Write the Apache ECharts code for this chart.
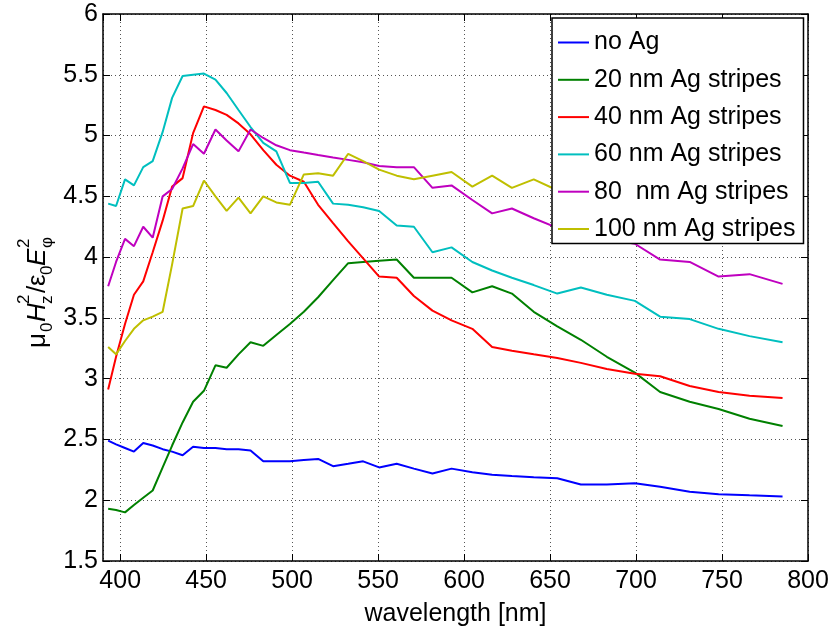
<!DOCTYPE html>
<html>
<head>
<meta charset="utf-8">
<script src="https://cdn.jsdelivr.net/npm/echarts@6/dist/echarts.min.js"></script>
<style>
  html, body { margin: 0; padding: 0; background: #fff; }
  #chart { width: 832px; height: 632px; }
</style>
</head>
<body>
<div id="chart"></div>
<script>
// wavelength samples [nm]
var wavelength = [393, 397.6, 402.8, 408, 413.4, 418.9, 424.7, 430.2, 436.3, 442.4,
  448.7, 455.4, 461.9, 468.8, 475.8, 483.2, 490.8, 498.7, 506.8, 515.1,
  523.8, 532.6, 541.3, 550.6, 560.8, 570.8, 581.6, 592.7, 604.8, 616.3,
  627.8, 640.5, 654.2, 667.9, 683, 699.3, 714, 731.2, 748, 766, 785.2];

var noAg = [2.49, 2.46, 2.43, 2.40, 2.47, 2.45, 2.42, 2.40, 2.37, 2.44,
  2.43, 2.43, 2.42, 2.42, 2.41, 2.32, 2.32, 2.32, 2.33, 2.34,
  2.28, 2.30, 2.32, 2.27, 2.30, 2.26, 2.22, 2.26, 2.23, 2.21,
  2.20, 2.19, 2.18, 2.13, 2.13, 2.14, 2.11, 2.07, 2.05, 2.04, 2.03];
var ag20 = [1.93, 1.92, 1.90, 1.96, 2.02, 2.08, 2.27, 2.45, 2.64, 2.81,
  2.90, 3.11, 3.09, 3.20, 3.30, 3.27, 3.36, 3.45, 3.55, 3.67,
  3.81, 3.95, 3.96, 3.97, 3.98, 3.83, 3.83, 3.83, 3.71, 3.76,
  3.70, 3.55, 3.43, 3.32, 3.18, 3.05, 2.89, 2.81, 2.75, 2.67, 2.61];
var ag40 = [2.91, 3.18, 3.45, 3.69, 3.80, 4.04, 4.30, 4.58, 4.65, 5.02,
  5.24, 5.21, 5.17, 5.10, 5.01, 4.88, 4.76, 4.67, 4.62, 4.43,
  4.28, 4.13, 3.99, 3.84, 3.83, 3.68, 3.56, 3.48, 3.41, 3.26,
  3.23, 3.20, 3.17, 3.13, 3.08, 3.04, 3.02, 2.94, 2.89, 2.86, 2.84];
var ag60 = [4.44, 4.42, 4.64, 4.59, 4.74, 4.79, 5.03, 5.31, 5.49, 5.50,
  5.51, 5.46, 5.35, 5.21, 5.07, 4.94, 4.87, 4.61, 4.61, 4.62,
  4.44, 4.43, 4.41, 4.38, 4.26, 4.25, 4.04, 4.08, 3.96, 3.89,
  3.83, 3.77, 3.70, 3.75, 3.69, 3.64, 3.51, 3.49, 3.41, 3.35, 3.30];
var ag80 = [3.76, 3.96, 4.15, 4.09, 4.25, 4.16, 4.50, 4.56, 4.73, 4.93,
  4.85, 5.05, 4.96, 4.87, 5.05, 4.98, 4.92, 4.88, 4.86, 4.84,
  4.82, 4.80, 4.78, 4.75, 4.74, 4.74, 4.57, 4.59, 4.47, 4.36,
  4.40, 4.32, 4.24, 4.19, 4.15, 4.11, 3.98, 3.96, 3.84, 3.86, 3.78];
var ag100 = [3.26, 3.20, 3.31, 3.41, 3.48, 3.51, 3.55, 3.94, 4.40, 4.42,
  4.63, 4.50, 4.38, 4.49, 4.36, 4.50, 4.45, 4.43, 4.68, 4.69,
  4.67, 4.85, 4.79, 4.72, 4.67, 4.64, 4.67, 4.70, 4.58, 4.67,
  4.57, 4.64, 4.55, 4.52, 4.50, 4.48, 4.45, 4.43, 4.40, 4.38, 4.35];

var seriesNames = ['no Ag', '20 nm Ag stripes', '40 nm Ag stripes', '60 nm Ag stripes', '80  nm Ag stripes', '100 nm Ag stripes'];
var seriesValues = [noAg, ag20, ag40, ag60, ag80, ag100];
var seriesColors = ['#0000ff', '#008000', '#ff0000', '#00bfbf', '#bf00bf', '#bfbf00'];

var FONT = "'Liberation Sans', Arial, Helvetica, sans-serif";

var myChart = echarts.init(document.getElementById('chart'));

function pairs(vals) {
  return wavelength.map(function (w, i) { return [w, vals[i]]; });
}

var series = seriesNames.map(function (name, k) {
  return {
    name: name,
    type: 'line',
    data: pairs(seriesValues[k]),
    symbol: 'none',
    lineStyle: { color: seriesColors[k], width: 2 },
    itemStyle: { color: seriesColors[k] },
    animation: false
  };
});

// pieces of the rotated y label
function lbl(text, x, y, size, italic) {
  return {
    type: 'text',
    style: {
      text: text, x: x, y: y,
      font: (italic ? 'italic ' : '') + size + 'px ' + FONT,
      fill: '#000', align: 'left', verticalAlign: 'middle'
    }
  };
}

var axisLine = { show: true, lineStyle: { color: '#000', width: 1.5 } };
var tickIn = { show: true, inside: true, length: 7, lineStyle: { color: '#000', width: 1 } };
var dotted = { show: true, lineStyle: { color: '#555', type: [1, 3], width: 1 } };

myChart.setOption({
  animation: false,
  grid: { left: 103, right: 24, top: 14, bottom: 67 },
  legend: {
    orient: 'vertical',
    left: 552, top: 18,
    padding: [12, 8, 2, 6],
    icon: 'rect',
    itemWidth: 31, itemHeight: 2, itemGap: 12.3,
    backgroundColor: '#fff',
    borderColor: '#000', borderWidth: 1.5,
    textStyle: { fontFamily: FONT, fontSize: 25, color: '#000', lineHeight: 25 },
    data: seriesNames
  },
  xAxis: [{
    type: 'value', min: 390, max: 800, splitNumber: 8, minInterval: 50, maxInterval: 50,
    name: 'wavelength [nm]', nameLocation: 'middle', nameGap: 41,
    nameTextStyle: { fontFamily: FONT, fontSize: 25, color: '#000' },
    axisLine: axisLine, axisTick: tickIn, splitLine: dotted,
    axisLabel: { fontFamily: FONT, fontSize: 25, color: '#000', margin: 8, showMinLabel: false,
      formatter: function (v) { return v % 50 === 0 ? String(v) : ''; } }
  }, {
    type: 'value', position: 'top', min: 390, max: 800, splitNumber: 8, minInterval: 50, maxInterval: 50,
    axisLine: axisLine, axisTick: tickIn, splitLine: { show: false }, axisLabel: { show: false }
  }],
  yAxis: [{
    type: 'value', min: 1.5, max: 6, interval: 0.5,
    axisLine: axisLine, axisTick: tickIn, splitLine: dotted,
    axisLabel: { fontFamily: FONT, fontSize: 25, color: '#000', margin: 5 }
  }, {
    type: 'value', position: 'right', min: 1.5, max: 6, interval: 0.5,
    axisLine: axisLine, axisTick: tickIn, splitLine: { show: false }, axisLabel: { show: false }
  }],
  graphic: [{
    type: 'group', x: 47, y: 348, rotation: Math.PI / 2,
    children: [
      lbl('\u03bc', 0, -9, 26, false),
      lbl('0', 16, 0, 17, false),
      lbl('H', 26, -9, 26, true),
      lbl('2', 44, -23, 17, false),
      lbl('z', 44, 0, 17, false),
      lbl('/', 55, -9, 26, false),
      lbl('\u03b5', 62, -9, 26, false),
      lbl('0', 73, 0, 17, false),
      lbl('E', 82, -9, 26, true),
      lbl('2', 100, -23, 17, false),
      lbl('\u03c6', 100, 0, 17, false)
    ]
  }],
  series: series
});
</script>
</body>
</html>
